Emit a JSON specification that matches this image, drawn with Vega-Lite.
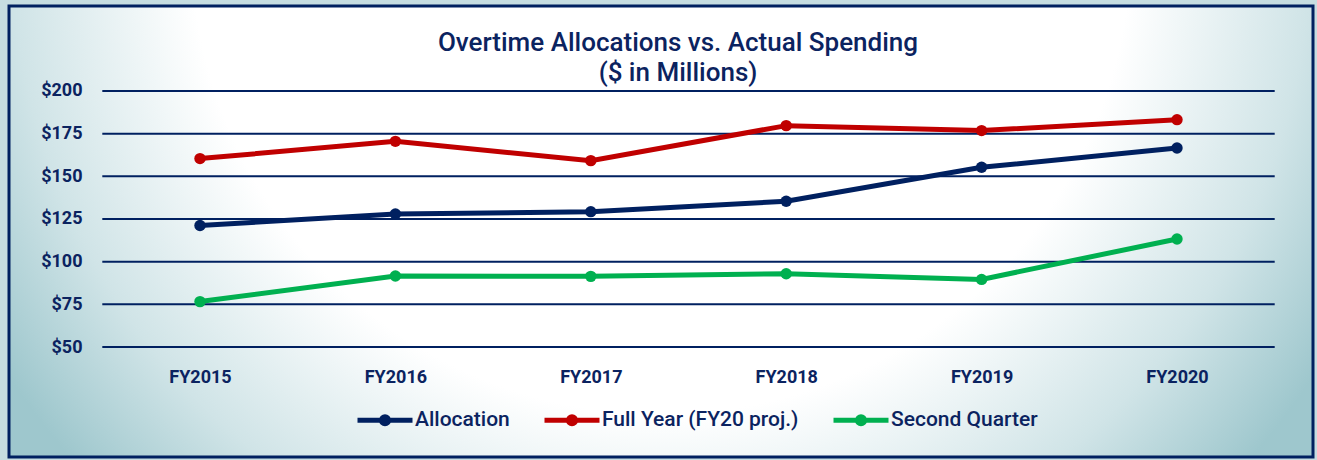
{
  "$schema": "https://vega.github.io/schema/vega-lite/v6.json",
  "width": 1304,
  "height": 451,
  "autosize": {"type": "none"},
  "padding": {"left": 9, "top": 6, "right": 4, "bottom": 3},
  "background": "#c6dde1",
  "title": {
    "text": ["Overtime Allocations vs. Actual Spending", "($ in Millions)"],
    "orient": "top",
    "anchor": "middle",
    "offset": -80,
    "dx": 17,
    "fontSize": 26,
    "fontWeight": 500,
    "font": "Roboto",
    "color": "#0b2360",
    "lineHeight": 30
  },
  "config": {
    "view": {
      "fill": {
        "gradient": "radial",
        "x1": 0.5, "y1": 0.28, "r1": 0,
        "x2": 0.5, "y2": 0.28, "r2": 0.6,
        "stops": [
          {"offset": 0, "color": "#ffffff"},
          {"offset": 0.6, "color": "#ffffff"},
          {"offset": 0.83, "color": "#d0e4e7"},
          {"offset": 1, "color": "#9ec7cd"}
        ]
      },
      "stroke": "#002060",
      "strokeWidth": 3
    },
    "axis": {
      "labelFont": "Roboto",
      "labelFontWeight": "bold",
      "labelFontSize": 18,
      "labelColor": "#0b2360",
      "domain": false,
      "ticks": false,
      "grid": false,
      "title": null
    }
  },
  "datasets": {
    "series": [
      {"year": 2015, "series": "Allocation", "value": 121.2},
      {"year": 2016, "series": "Allocation", "value": 127.9},
      {"year": 2017, "series": "Allocation", "value": 129.3},
      {"year": 2018, "series": "Allocation", "value": 135.4},
      {"year": 2019, "series": "Allocation", "value": 155.3},
      {"year": 2020, "series": "Allocation", "value": 166.6},
      {"year": 2015, "series": "Full Year (FY20 proj.)", "value": 160.4},
      {"year": 2016, "series": "Full Year (FY20 proj.)", "value": 170.5},
      {"year": 2017, "series": "Full Year (FY20 proj.)", "value": 159.2},
      {"year": 2018, "series": "Full Year (FY20 proj.)", "value": 179.7},
      {"year": 2019, "series": "Full Year (FY20 proj.)", "value": 176.8},
      {"year": 2020, "series": "Full Year (FY20 proj.)", "value": 183.2},
      {"year": 2015, "series": "Second Quarter", "value": 76.6},
      {"year": 2016, "series": "Second Quarter", "value": 91.6},
      {"year": 2017, "series": "Second Quarter", "value": 91.4},
      {"year": 2018, "series": "Second Quarter", "value": 92.9},
      {"year": 2019, "series": "Second Quarter", "value": 89.6},
      {"year": 2020, "series": "Second Quarter", "value": 113.3}
    ],
    "ticks": [
      {"tick": 50}, {"tick": 75}, {"tick": 100}, {"tick": 125},
      {"tick": 150}, {"tick": 175}, {"tick": 200}
    ]
  },
  "layer": [
    {
      "data": {"name": "ticks"},
      "mark": {"type": "rule", "color": "#002060", "strokeWidth": 2},
      "encoding": {
        "x": {
          "datum": 2014.5,
          "type": "quantitative",
          "scale": {"domain": [2014.0225, 2020.696], "nice": false, "zero": false},
          "axis": {
            "orient": "bottom",
            "offset": -89,
            "labelPadding": 0,
            "values": [2015, 2016, 2017, 2018, 2019, 2020],
            "labelExpr": "'FY' + datum.value"
          }
        },
        "x2": {"datum": 2020.5},
        "y": {
          "field": "tick",
          "type": "quantitative",
          "scale": {"domain": [-14.45, 249.8], "nice": false, "zero": false},
          "axis": {
            "orient": "left",
            "offset": -73,
            "labelPadding": 0,
            "values": [50, 75, 100, 125, 150, 175, 200],
            "labelExpr": "'$' + datum.value"
          }
        }
      }
    },
    {
      "data": {"name": "series"},
      "mark": {"type": "line", "strokeWidth": 5, "point": {"size": 130, "filled": true}},
      "encoding": {
        "x": {"field": "year", "type": "quantitative"},
        "y": {"field": "value", "type": "quantitative"},
        "color": {
          "field": "series",
          "type": "nominal",
          "scale": {
            "domain": ["Allocation", "Full Year (FY20 proj.)", "Second Quarter"],
            "range": ["#002060", "#c00000", "#00b050"]
          },
          "legend": {
            "orient": "none",
            "legendX": 346,
            "legendY": 384,
            "direction": "horizontal",
            "title": null,
            "symbolType": "M-1,0L1,0M-0.13,0a0.13,0.13 0 1,0 0.26,0a0.13,0.13 0 1,0 -0.26,0",
            "symbolSize": 3025,
            "symbolStrokeWidth": 5,
            "labelFont": "Roboto",
            "labelFontSize": 21,
            "labelFontWeight": 500,
            "labelColor": "#0b2360",
            "labelOffset": 0,
            "labelLimit": 400,
            "columnPadding": 24
          }
        }
      }
    }
  ]
}
